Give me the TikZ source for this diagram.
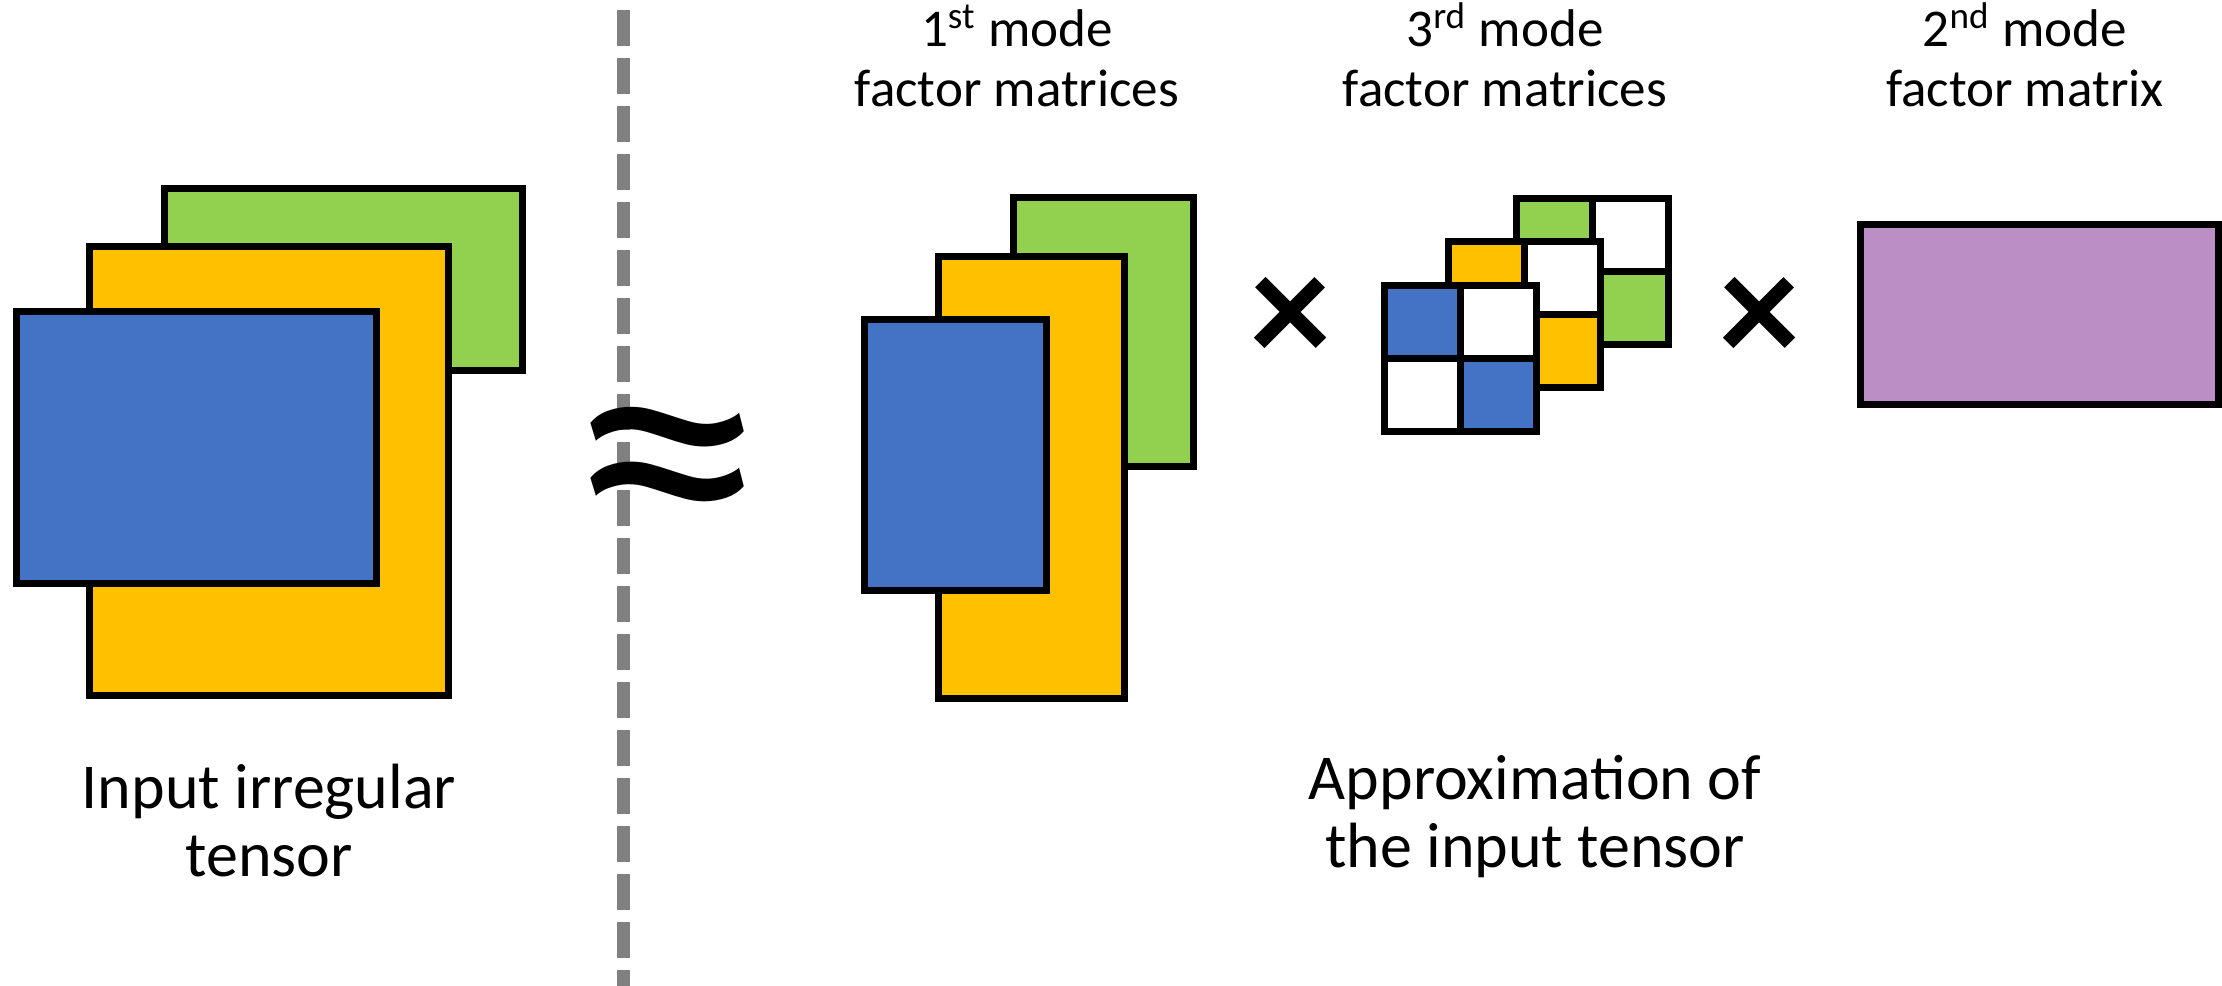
\documentclass[tikz,border=0pt]{standalone}
\usepackage{fontspec}
\setmainfont{Carlito}
\usepackage{tikz}

\definecolor{sliceblue}{HTML}{4472C4}
\definecolor{sliceyellow}{HTML}{FFC000}
\definecolor{slicegreen}{HTML}{92D050}
\definecolor{slicepurple}{HTML}{BC8EC6}
\definecolor{cutgrey}{HTML}{808080}

% one 2x2 slice of the 3rd mode factor: x, y, colour
\newcommand{\coregrid}[3]{%
    \fill[white] (#1,#2) rectangle ++(152,146);
    \fill[#3] (#1,#2) rectangle ++(76,73);
    \fill[#3] (#1+76,#2+73) rectangle ++(76,73);
    \draw[slab] (#1,#2) rectangle ++(152,146);
    \draw[slab] (#1+76,#2) -- ++(0,146);
    \draw[slab] (#1,#2+73) -- ++(152,0);
}

\begin{document}
\begin{tikzpicture}[
        x=0.1mm, y=-0.1mm,
        slab/.style={draw=black, line width=0.7mm},
        caption/.style={font=\fontsize{18.2pt}{19.35pt}\selectfont, align=center, inner sep=0pt, anchor=base},
        modelabel/.style={font=\fontsize{15.1pt}{16.9pt}\selectfont, align=center, inner sep=0pt, anchor=base},
        opsign/.style={inner sep=0pt, font=\bfseries\fontsize{46pt}{46pt}\selectfont}
    ]
    \useasboundingbox (0,0) rectangle (2222,986);

    % input irregular tensor
    \draw[slab, fill=slicegreen] (164.5,188.5) rectangle (522.5,370.5);
    \draw[slab, fill=sliceyellow] (89.5,246.5) rectangle (448.5,695.5);
    \draw[slab, fill=sliceblue] (16,311.5) rectangle (376.5,583.5);
    \node[caption] (input) at (269,876) {Input irregular\\tensor};

    % dashed cut
    \coordinate (cut top) at (623.5,10);
    \coordinate (cut bottom) at (623.5,986);
    \draw[cutgrey, line width=1.27mm, dash pattern=on 3.6mm off 1.2mm] (cut top) -- (cut bottom);
    \node[inner sep=0pt, font=\fontsize{111pt}{111pt}\selectfont] (approx) at (668,485) {\scalebox{1.03}[0.88]{≈}};

    % 1st mode factor matrices
    \draw[slab, fill=slicegreen] (1013.5,197.5) rectangle (1193.5,466.5);
    \draw[slab, fill=sliceyellow] (938.5,256.5) rectangle (1124.5,698.5);
    \draw[slab, fill=sliceblue] (864.5,319.5) rectangle (1046.5,590.5);
    \node[modelabel] (first) at (1017,106) {1\textsuperscript{st} mode\\factor matrices};

    \node[opsign] (times1) at (1291,320) {×};

    % 3rd mode factor matrices
    \coregrid{1516}{198}{slicegreen}
    \coregrid{1448}{241}{sliceyellow}
    \coregrid{1384}{285}{sliceblue}
    \node[modelabel] (third) at (1505,106) {3\textsuperscript{rd} mode\\factor matrices};

    \node[opsign] (times2) at (1760,320) {×};

    % 2nd mode factor matrix
    \draw[slab, fill=slicepurple] (1860,224) rectangle (2218,404);
    \node[modelabel] (second) at (2025,106) {2\textsuperscript{nd} mode\\factor matrix};

    \node[caption] (approxlabel) at (1535,867) {Approximation of\\the input tensor};
\end{tikzpicture}
\end{document}
